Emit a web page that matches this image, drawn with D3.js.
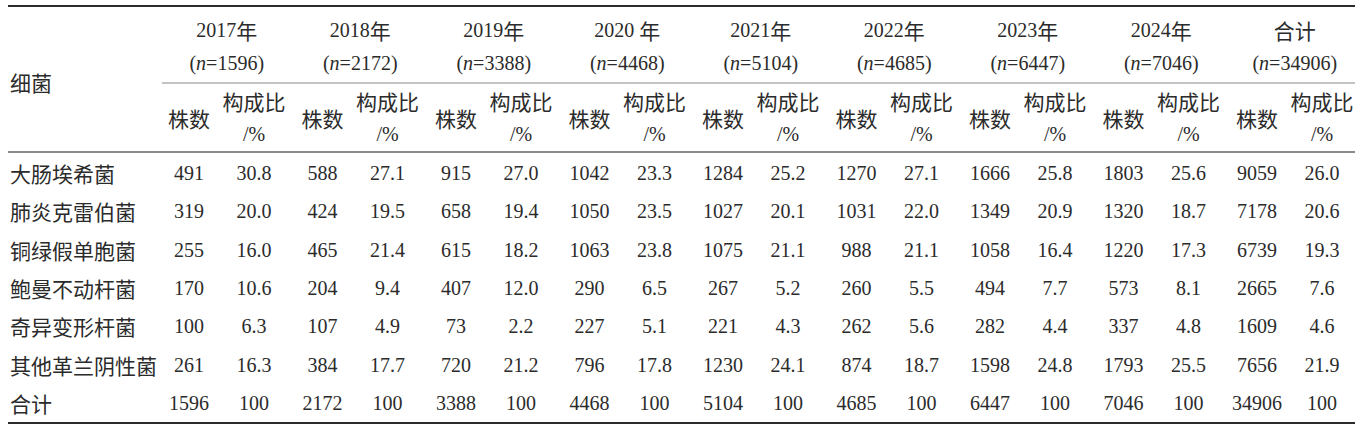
<!DOCTYPE html>
<html><head><meta charset="utf-8">
<script src="https://cdn.jsdelivr.net/npm/d3@7/dist/d3.min.js"></script>
<style>
html,body{margin:0;padding:0;background:#fff;}
svg{display:block;}
.num{font-family:"Liberation Serif","Times New Roman",serif;}
.cjk{font-family:"Noto Sans CJK SC","Noto Sans",sans-serif;}
</style></head>
<body>
<svg id="chart" width="1362" height="425"></svg>
<script>
// ---- data ----
const rowHeader = "细菌";
const groups = ["2017年","2018年","2019年","2020 年","2021年","2022年","2023年","2024年","合计"];
const groupN = [1596, 2172, 3388, 4468, 5104, 4685, 6447, 7046, 34906];
const subHeaders = ["株数", "构成比"];
const pctUnit = "/%";
const bacteria = ["大肠埃希菌","肺炎克雷伯菌","铜绿假单胞菌","鲍曼不动杆菌","奇异变形杆菌","其他革兰阴性菌","合计"];
const counts = [
  [491, 588, 915, 1042, 1284, 1270, 1666, 1803, 9059],
  [319, 424, 658, 1050, 1027, 1031, 1349, 1320, 7178],
  [255, 465, 615, 1063, 1075, 988, 1058, 1220, 6739],
  [170, 204, 407, 290, 267, 260, 494, 573, 2665],
  [100, 107, 73, 227, 221, 262, 282, 337, 1609],
  [261, 384, 720, 796, 1230, 874, 1598, 1793, 7656],
  [1596, 2172, 3388, 4468, 5104, 4685, 6447, 7046, 34906]
];
const pcts = [
  [30.8, 27.1, 27.0, 23.3, 25.2, 27.1, 25.8, 25.6, 26.0],
  [20.0, 19.5, 19.4, 23.5, 20.1, 22.0, 20.9, 18.7, 20.6],
  [16.0, 21.4, 18.2, 23.8, 21.1, 21.1, 16.4, 17.3, 19.3],
  [10.6, 9.4, 12.0, 6.5, 5.2, 5.5, 7.7, 8.1, 7.6],
  [6.3, 4.9, 2.2, 5.1, 4.3, 5.6, 4.4, 4.8, 4.6],
  [16.3, 17.7, 21.2, 17.8, 24.1, 18.7, 24.8, 25.5, 21.9],
  [100, 100, 100, 100, 100, 100, 100, 100, 100]
];

// ---- layout ----
const svg = d3.select("#chart");
const ink = "#2b2b2b";
const left = 8, right = 1355;
const cjkSize = 21, numSize = 20;
const gx = d3.scaleBand().domain(d3.range(groups.length)).range([162, 1363.5]).paddingInner(0).paddingOuter(0);
const sub = d3.scalePoint().domain([0,1]).range([27, 92]);
const ry = d3.scaleLinear().domain([0, bacteria.length - 1]).range([173, 403]);
const fmtPct = v => v === 100 ? "100" : d3.format(".1f")(v);

// rules
svg.append("line").attr("x1", left).attr("x2", right).attr("y1", 6).attr("y2", 6)
  .attr("stroke", ink).attr("stroke-width", 2);
svg.append("line").attr("x1", 162).attr("x2", right).attr("y1", 83).attr("y2", 83)
  .attr("stroke", "#8a8a8a").attr("stroke-width", 1.2);
svg.append("line").attr("x1", left).attr("x2", right).attr("y1", 152).attr("y2", 152)
  .attr("stroke", "#8a8a8a").attr("stroke-width", 2);
svg.append("line").attr("x1", left).attr("x2", right).attr("y1", 423).attr("y2", 423)
  .attr("stroke", ink).attr("stroke-width", 2.2);

// header: row header
svg.append("text").attr("class","cjk").attr("x", 10).attr("y", 82)
  .attr("dominant-baseline","central").attr("font-size", cjkSize).attr("fill", ink).text(rowHeader);

// group headers
const gh = svg.append("g").selectAll("g").data(groups).join("g")
  .attr("transform", (d,i) => `translate(${gx(i) + gx.bandwidth()/2 - 2},0)`);
gh.append("text").attr("text-anchor","middle").attr("y", 30).attr("dominant-baseline","central")
  .attr("fill", ink)
  .each(function(d){
    const t = d3.select(this);
    const m = d.match(/^(\d+)(\s*)(.*)$/);
    if (m) {
      t.append("tspan").attr("class","num").attr("font-size", numSize).text(m[1] + m[2]);
      t.append("tspan").attr("class","cjk").attr("font-size", cjkSize).text(m[3]);
    } else {
      t.attr("class","cjk").attr("font-size", cjkSize).text(d);
    }
  });
gh.append("text").attr("class","num").attr("text-anchor","middle").attr("y", 63)
  .attr("dominant-baseline","central").attr("font-size", numSize).attr("fill", ink)
  .each(function(d,i){
    const t = d3.select(this);
    t.append("tspan").text("(");
    t.append("tspan").attr("font-style","italic").text("n");
    t.append("tspan").text("=" + groupN[i] + ")");
  });

// sub headers
const sh = svg.append("g").selectAll("g").data(groups).join("g")
  .attr("transform", (d,i) => `translate(${gx(i)},0)`);
sh.append("text").attr("class","cjk").attr("x", sub(0)).attr("y", 118).attr("text-anchor","middle")
  .attr("dominant-baseline","central").attr("font-size", cjkSize).attr("fill", ink).text(subHeaders[0]);
sh.append("text").attr("class","cjk").attr("x", sub(1)).attr("y", 101).attr("text-anchor","middle")
  .attr("dominant-baseline","central").attr("font-size", cjkSize).attr("fill", ink).text(subHeaders[1]);
sh.append("text").attr("class","num").attr("x", sub(1)).attr("y", 134).attr("text-anchor","middle")
  .attr("dominant-baseline","central").attr("font-size", numSize).attr("fill", ink).text(pctUnit);

// body rows
const rows = svg.append("g").selectAll("g").data(bacteria).join("g")
  .attr("transform", (d,i) => `translate(0,${ry(i)})`);
rows.append("text").attr("class","cjk").attr("x", 10).attr("dominant-baseline","central")
  .attr("font-size", cjkSize).attr("fill", ink).text(d => d);
rows.each(function(d, r){
  const g = d3.select(this);
  g.selectAll("text.c").data(counts[r]).join("text").attr("class","num c")
    .attr("x", (v,i) => gx(i) + sub(0)).attr("text-anchor","middle").attr("dominant-baseline","central")
    .attr("font-size", numSize).attr("fill", ink).text(v => v);
  g.selectAll("text.p").data(pcts[r]).join("text").attr("class","num p")
    .attr("x", (v,i) => gx(i) + sub(1)).attr("text-anchor","middle").attr("dominant-baseline","central")
    .attr("font-size", numSize).attr("fill", ink).text(v => fmtPct(v));
});
</script>
</body></html>
